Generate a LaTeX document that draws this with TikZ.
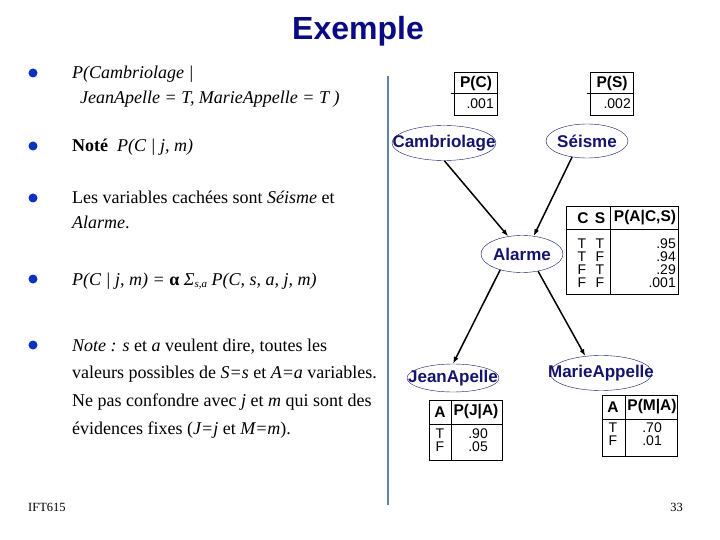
\documentclass[tikz,border=0pt]{standalone}
\usepackage{fontspec}
\setmainfont{Liberation Serif}
\newfontfamily\arial{Liberation Sans}
\usetikzlibrary{arrows.meta, shapes.geometric}
\definecolor{marine}{RGB}{20,20,110}
\definecolor{titrebleu}{RGB}{10,10,130}
\definecolor{pucebleu}{RGB}{10,50,190}
\definecolor{traitbleu}{RGB}{100,130,165}
\tikzset{
  noeud/.style={ellipse, draw=marine, thin, inner sep=0pt},
  etiq/.style={text=marine, inner sep=0pt, font=\arial\bfseries\fontsize{17}{17}\selectfont},
  fleche/.style={-{Latex[length=7pt,width=5pt]}, line width=1.5pt},
  tete/.style={inner sep=0pt, font=\arial\bfseries\fontsize{15.5}{15.5}\selectfont},
  case/.style={inner sep=0pt, font=\arial\fontsize{14}{14}\selectfont},
  ligne/.style={anchor=base west, inner sep=0pt, font=\fontsize{18}{21}\selectfont},
  pied/.style={inner sep=0pt, font=\fontsize{12.5}{12.5}\selectfont},
}
\newcommand{\puce}[1]{\fill[pucebleu] (33,#1) circle (4.5);}
\newcommand{\tablo}[4]{\draw (#1,#2) rectangle (#3,#4);}

\begin{document}
\begin{tikzpicture}[x=1pt,y=-1pt]
\useasboundingbox (0,0) rectangle (720,540);
\node[anchor=base, text=titrebleu, inner sep=0pt, font=\arial\bfseries\fontsize{32}{32}\selectfont] (titre) at (358,40) {Exemple};
\draw[traitbleu, line width=2.5pt] (388,76) -- (388,505);
% texte de gauche
\puce{73}
\node[ligne] (b1) at (72,79) {\itshape P(Cambriolage |};
\node[ligne] (b1s) at (80,104) {\itshape JeanApelle = T, MarieAppelle = T )};
\puce{146}
\node[ligne] (b2) at (72,152) {\textbf{Noté}\ \ \textit{P(C | j, m)}};
\puce{198}
\node[ligne] (b3) at (72,204) {Les variables cachées sont \textit{Séisme} et};
\node[ligne] (b3s) at (72,229) {\textit{Alarme}.};
\puce{279}
\node[ligne] (b4) at (72,285) {\itshape P(C | j, m) = \textbf{\upshape α} Σ\raisebox{-0.35ex}{\fontsize{11}{11}\selectfont s,a} P(C, s, a, j, m)};
\puce{345}
\node[ligne] (b5) at (72,351) {\textit{Note :} \textit{s} et \textit{a} veulent dire, toutes les};
\node[ligne] (b5a) at (72,378) {valeurs possibles de \textit{S=s} et \textit{A=a} variables.};
\node[ligne] (b5b) at (72,406) {Ne pas confondre avec \textit{j} et \textit{m} qui sont des};
\node[ligne] (b5c) at (72,434) {évidences fixes (\textit{J=j} et \textit{M=m}).};
\node[pied, anchor=west] (cours) at (28,507) {IFT615};
\node[pied, anchor=east] (page) at (683,507) {33};
% reseau
\node[noeud, minimum width=104, minimum height=35, label={[etiq]center:Cambriolage}] (cambr) at (444,143) {};
\node[noeud, minimum width=82, minimum height=34, label={[etiq]center:Séisme}] (seisme) at (587,141) {};
\node[noeud, minimum width=82, minimum height=37, label={[etiq]center:Alarme}] (alarme) at (522,254) {};
\node[noeud, minimum width=92, minimum height=28, label={[etiq]center:JeanApelle}] (jean) at (453,378) {};
\node[noeud, minimum width=102, minimum height=35, label={[etiq]center:MarieAppelle}] (marie) at (601,373) {};
\draw[fleche] (cambr.-89) -- (alarme.128);
\draw[fleche] (seisme.-133) -- (alarme.57);
\draw[fleche] (alarme.-144) -- (jean.north);
\draw[fleche] (alarme.-47) -- (marie.133);
% tables
\tablo{454}{72}{497}{115}
\draw (451,93) -- (497,93);
\node[tete] (pc) at (476,83) {P(C)};
\node[case, anchor=east] (pcv) at (494,104) {.001};
\tablo{590}{72}{633}{115}
\draw (587,93) -- (633,93);
\node[tete] (ps) at (612,83) {P(S)};
\node[case, anchor=east] (psv) at (631,104) {.002};
\tablo{566}{206}{678}{294}
\draw (566,229) -- (678,229) (610,206) -- (610,294);
\node[tete] (pac) at (583,218) {C};
\node[tete] (pas) at (600,218) {S};
\node[tete] (pa) at (645,218) {P(A|C,S)};
\foreach \c/\s/\v [count=\i] in {T/T/.95, T/F/.94, F/T/.29, F/F/.001} {
  \node[case] (ac\i) at (582,230+13.2*\i) {\c};
  \node[case] (as\i) at (600,230+13.2*\i) {\s};
  \node[case, anchor=east] (av\i) at (676,230+13.2*\i) {\v};
}
\tablo{429}{400}{502}{460}
\draw (429,424) -- (502,424) (451,400) -- (451,460);
\node[tete] (ja) at (440,412) {A};
\node[tete] (pj) at (476,412) {P(J|A)};
\foreach \a/\v [count=\i] in {T/.90, F/.05} {
  \node[case] (jl\i) at (440,420+13.5*\i) {\a};
  \node[case, anchor=east] (jv\i) at (488,420+13.5*\i) {\v};
}
\tablo{602}{395}{677}{456}
\draw (602,419) -- (677,419) (625,395) -- (625,456);
\node[tete] (ma) at (613,407) {A};
\node[tete] (pm) at (652,407) {P(M|A)};
\foreach \a/\v [count=\i] in {T/.70, F/.01} {
  \node[case] (ml\i) at (613,414+13.5*\i) {\a};
  \node[case, anchor=east] (mv\i) at (662,414+13.5*\i) {\v};
}
\end{tikzpicture}
\end{document}
